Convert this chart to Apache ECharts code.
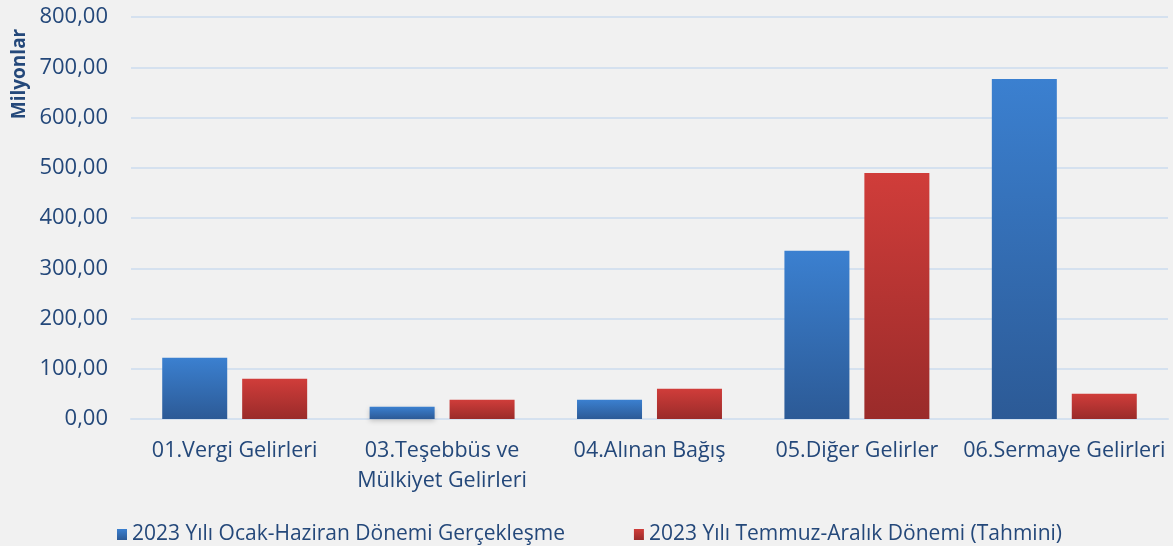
<!DOCTYPE html>
<html>
<head>
<meta charset="utf-8">
<script src="https://cdn.jsdelivr.net/npm/echarts@6/dist/echarts.min.js"></script>
<style>
html,body{margin:0;padding:0;background:#f1f1f1;}
#c{width:1173px;height:546px;}
</style>
</head>
<body>
<div id="c"></div>
<script>
const categories = ['01.Vergi Gelirleri', '03.Teşebbüs ve\nMülkiyet Gelirleri', '04.Alınan Bağış', '05.Diğer Gelirler', '06.Sermaye Gelirleri'];
const seriesNames = ['2023 Yılı Ocak-Haziran Dönemi Gerçekleşme', '2023 Yılı Temmuz-Aralık Dönemi (Tahmini)'];
const actual = [122, 24.5, 38.4, 334.6, 676.5];
const estimate = [80, 38.4, 60.2, 489.7, 50.3];
const yTicks = [0, 100, 200, 300, 400, 500, 600, 700, 800];
const yTitle = 'Milyonlar';

const textColor = '#24487a';
const font = 'Open Sans';
const chart = echarts.init(document.getElementById('c'));
function grad(top, bottom){
  return new echarts.graphic.LinearGradient(0,0,0,1,[{offset:0,color:top},{offset:1,color:bottom}]);
}
chart.setOption({
  backgroundColor: '#f1f1f1',
  textStyle: {fontFamily: font},
  grid: {left: 131, right: 5, top: 17, bottom: 127},
  graphic: [{
    type: 'text', x: 20, y: 74, rotation: Math.PI/2,
    style: {text: yTitle, fill: textColor, font: 'bold 19px "Open Sans"', align: 'center', verticalAlign: 'middle'}
  }],
  legend: {
    top: 519, left: 112, itemGap: 69, itemWidth: 10, itemHeight: 11,
    icon: 'rect',
    textStyle: {color: textColor, fontSize: 21, fontFamily: font},
    data: seriesNames
  },
  xAxis: {
    type: 'category', data: categories,
    axisLine: {lineStyle: {color: '#d5e1ef', width: 2}},
    axisTick: {show: false},
    axisLabel: {color: textColor, fontSize: 21.5, margin: 17, lineHeight: 30, interval: 0}
  },
  yAxis: {
    type: 'value', min: yTicks[0], max: yTicks[yTicks.length-1], interval: 100,
    axisLine: {show: false}, axisTick: {show: false},
    splitLine: {lineStyle: {color: '#d5e1ef', width: 2}},
    axisLabel: {color: textColor, fontSize: 22, margin: 23,
      formatter: v => v.toFixed(2).replace('.', ',')}
  },
  series: [
    {name: seriesNames[0], type: 'bar', data: actual, barWidth: 65, barGap: '23%',
     itemStyle: {color: grad('#3b80d0', '#2c5a96'), shadowColor: 'rgba(0,0,0,0.2)', shadowBlur: 5, shadowOffsetY: 2}},
    {name: seriesNames[1], type: 'bar', data: estimate, barWidth: 65,
     itemStyle: {color: grad('#d03d3a', '#9a2b2a'), shadowColor: 'rgba(0,0,0,0.2)', shadowBlur: 5, shadowOffsetY: 2}}
  ]
});
</script>
</body>
</html>
